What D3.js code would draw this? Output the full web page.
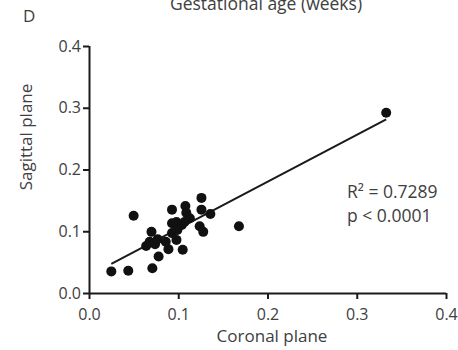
<!DOCTYPE html>
<html>
<head>
<meta charset="utf-8">
<script src="https://cdn.jsdelivr.net/npm/d3@7"></script>
<style>
  body { margin: 0; background: #fff; }
  svg { display: block; font-family: "Open Sans", sans-serif; }
</style>
</head>
<body>
<svg id="chart" width="458" height="350"></svg>
<script>
// coronal plane (x) vs sagittal plane (y)
const coronal = [0.025, 0.044, 0.071, 0.050, 0.070, 0.078, 0.089, 0.105, 0.064, 0.068,
  0.074, 0.077, 0.086, 0.098, 0.093, 0.099, 0.093, 0.098, 0.104, 0.093,
  0.108, 0.109, 0.113, 0.107, 0.126, 0.126, 0.136, 0.124, 0.128, 0.168, 0.333]
const sagittal = [0.035, 0.036, 0.040, 0.125, 0.099, 0.059, 0.071, 0.070, 0.076, 0.083,
  0.079, 0.087, 0.083, 0.086, 0.097, 0.102, 0.113, 0.115, 0.110, 0.135,
  0.141, 0.130, 0.121, 0.115, 0.154, 0.135, 0.128, 0.108, 0.099, 0.108, 0.292]
const fitX = [0.025, 0.333]
const fitY = [0.047, 0.281]
const xTicks = [0, 0.1, 0.2, 0.3, 0.4]
const yTicks = [0, 0.1, 0.2, 0.3, 0.4]
const statLines = ["R² = 0.7289", "p < 0.0001"]

let svg = d3.select("#chart")
let mLeft = 89, mRight = 446, mTop = 46, mBottom = 293
let textCol = "#404040"

let x = d3.scaleLinear().domain([0, 0.4]).range([mLeft, mRight])
let y = d3.scaleLinear().domain([0, 0.4]).range([mBottom, mTop])

let xAxis = d3.axisBottom(x).tickValues(xTicks).tickFormat(d3.format(".1f")).tickSize(6).tickPadding(10)
let yAxis = d3.axisLeft(y).tickValues(yTicks).tickFormat(d3.format(".1f")).tickSize(6).tickPadding(2)

let gx = svg.append("g").attr("transform", `translate(0,${mBottom})`).call(xAxis)
let gy = svg.append("g").attr("transform", `translate(${mLeft},0)`).call(yAxis)

;[gx, gy].forEach(g => {
  g.select(".domain").attr("stroke", "#1a1a1a").attr("stroke-width", 2)
  g.selectAll(".tick line").attr("stroke", "#1a1a1a").attr("stroke-width", 2)
  g.selectAll(".tick text").attr("fill", textCol).style("font-size", "16px")
    .style("font-family", "'Open Sans', sans-serif")
})
// domain without outer ticks
gx.select(".domain").attr("d", `M${mLeft},0.5H${mRight}`)
gy.select(".domain").attr("d", `M0.5,${mBottom}V${mTop}`)

// regression line
svg.append("line")
  .attr("x1", x(fitX[0])).attr("y1", y(fitY[0]))
  .attr("x2", x(fitX[1])).attr("y2", y(fitY[1]))
  .attr("stroke", "#1a1a1a").attr("stroke-width", 2)

svg.append("g").selectAll("circle")
  .data(coronal.map((c, i) => [c, sagittal[i]]))
  .enter().append("circle")
  .attr("cx", d => x(d[0]))
  .attr("cy", d => y(d[1]))
  .attr("r", 5)
  .attr("fill", "#111")

// labels
svg.append("text").attr("x", 272).attr("y", 342).attr("text-anchor", "middle")
  .attr("fill", textCol).style("font-size", "17px").text("Coronal plane")

svg.append("text").attr("transform", "translate(32,137) rotate(-90)").attr("text-anchor", "middle")
  .attr("fill", textCol).style("font-size", "17px").text("Sagittal plane")

svg.append("text").attr("x", 266).attr("y", 10).attr("text-anchor", "middle")
  .attr("fill", textCol).style("font-size", "17.5px").text("Gestational age (weeks)")

svg.append("text").attr("x", 23).attr("y", 22)
  .attr("fill", textCol).style("font-size", "17px").text("D")

svg.append("g").selectAll("text").data(statLines).enter().append("text")
  .attr("x", 347).attr("y", (d, i) => 198 + i * 24)
  .attr("fill", textCol).style("font-size", "17.5px")
  .text(d => d)
</script>
</body>
</html>
